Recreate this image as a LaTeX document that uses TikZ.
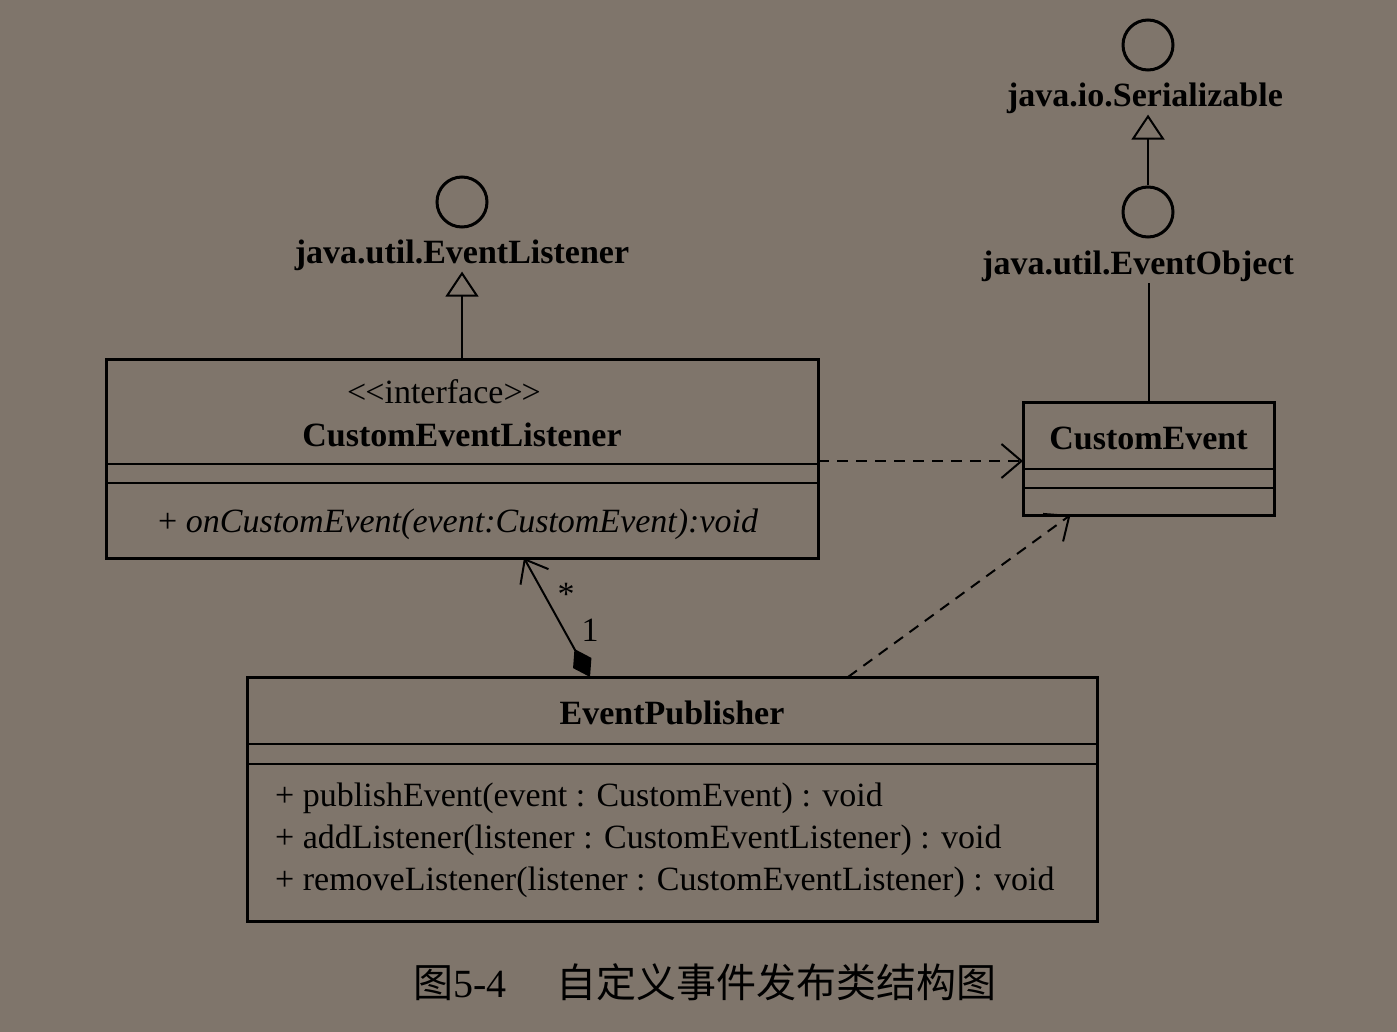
\documentclass[tikz,border=0pt]{standalone}
\usepackage{fontspec}
\setmainfont{Liberation Serif}
\newfontfamily\cjk{Noto Sans CJK SC}
\usetikzlibrary{arrows.meta,calc}
\definecolor{bgcol}{RGB}{127,117,107}
\tikzset{
  classbox/.style={draw,line width=3pt,inner sep=0pt,outer sep=0pt,anchor=north west},
  divline/.style={line width=2pt},
  ifcircle/.style={circle,draw,line width=3pt,minimum size=50pt,inner sep=0pt},
  bname/.style={font=\fontsize{34}{40}\selectfont\bfseries,inner sep=1pt},
  ptext/.style={font=\fontsize{34}{40}\selectfont,inner sep=0pt},
  realize/.style={line width=2pt,-{Triangle[open,length=25pt,width=33pt,line width=2pt]}},
  dep/.style={line width=2pt,dash pattern=on 11pt off 8pt,-{Straight Barb[length=20pt,width=34pt,line width=2pt]}},
  comp/.style={line width=2pt,{Diamond[length=32pt,width=21pt]}-{Straight Barb[length=20pt,width=32pt,line width=2pt]}}
}
\begin{document}
\begin{tikzpicture}[x=1pt,y=-1pt]
\fill[bgcol](0,0)rectangle(1397,1032);
% interfaces
\node[ifcircle](el) at (462,202){};
\node[bname](ellbl) at (462,255){java.util.EventListener};
\node[ifcircle](ser) at (1148,45){};
\node[bname](serlbl) at (1145,98){java.io.Serializable};
\node[ifcircle](eo) at (1148,212){};
\node[bname](eolbl) at (1138,266){java.util.EventObject};
% classes
\node[classbox,minimum width=712pt,minimum height=199pt](cel) at (106,359){};
\node[classbox,minimum width=251pt,minimum height=113pt](ce) at (1023,402){};
\node[classbox,minimum width=850pt,minimum height=244pt](ep) at (247,677){};
\foreach \bx/\da/\db in {cel/105/124,ce/67/86,ep/67/87}{
  \draw[divline]([yshift=-\da]\bx.north west)--([yshift=-\da]\bx.north east);
  \draw[divline]([yshift=-\db]\bx.north west)--([yshift=-\db]\bx.north east);}
\node[ptext](celst) at ([xshift=-18,yshift=-33]cel.north){<\kern-1pt<interface>\kern-1pt>};
\node[bname](celname) at ([yshift=-76]cel.north){CustomEventListener};
\node[ptext,anchor=west](celop) at ([xshift=52,yshift=-165]cel.north west){+ \textit{onCustomEvent(event:CustomEvent):void}};
\node[bname](cename) at ([yshift=-36]ce.north){CustomEvent};
\node[bname](epname) at ([yshift=-36]ep.north){EventPublisher};
\foreach \k/\mtxt in {0/{publishEvent(event : CustomEvent) : void},1/{addListener(listener : CustomEventListener) : void},2/{removeListener(listener : CustomEventListener) : void}}{
  \node[ptext,anchor=west](epop\k) at ([xshift=28,yshift=-121-42*\k]ep.north west){+ \mtxt};}
% relations
\draw[realize](cel.north)--(cel.north|-ellbl.south);
\draw[realize](eo.north)--(eo.north|-serlbl.south);
\draw[line width=2pt](ce.north)--(ce.north|-eolbl.south);
\draw[dep]([yshift=-2.5]cel.east)--([yshift=-2.5]ce.west);
\draw[dep]([xshift=176]ep.north)--([xshift=-78]ce.south);
\draw[comp]([xshift=-82]ep.north)--([xshift=62]cel.south);
\node[ptext](mstar) at (566,594){*};
\node[ptext](mone) at (590,630){1};
% caption
\node[inner sep=0pt,font=\fontsize{40}{46}\selectfont](cap) at (705,982){{\cjk 图}5-4\hspace{50pt}{\cjk 自定义事件发布类结构图}};
\end{tikzpicture}
\end{document}
